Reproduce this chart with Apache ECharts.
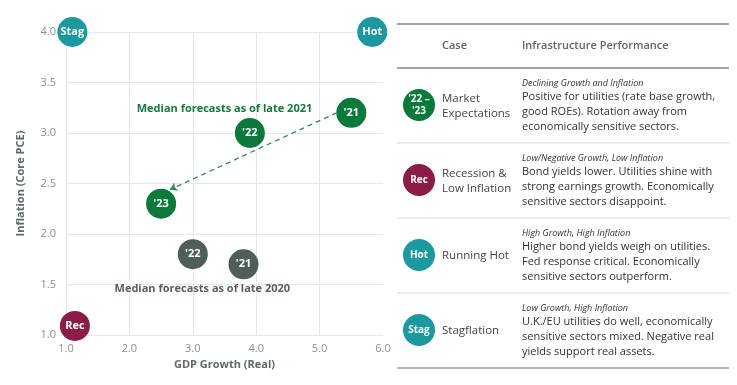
<!DOCTYPE html>
<html>
<head>
<meta charset="utf-8">
<script src="https://cdn.jsdelivr.net/npm/echarts@6/dist/echarts.min.js"></script>
<style>html,body{margin:0;padding:0;background:#fff}#c{width:737px;height:385px}</style>
</head>
<body>
<div id="c"></div>
<script>
// ---- data ----
const scenarioLabels = ['Stag', 'Hot', 'Rec'];
const scenarioX = [1.1, 5.83, 1.14];
const scenarioY = [4.0, 4.0, 1.09];
const scenarioColors = ['#1a9aa0', '#1a9aa0', '#8a1c45'];

const late2021Labels = ["'21", "'22", "'23"];
const late2021X = [5.5, 3.9, 2.5];
const late2021Y = [3.2, 3.0, 2.3];

const late2020Labels = ["'22", "'21"];
const late2020X = [3.0, 3.8];
const late2020Y = [1.8, 1.7];

const arrowFrom = [5.27, 3.2];
const arrowTo = [2.64, 2.44];

const annotTexts = ['Median forecasts as of late 2021', 'Median forecasts as of late 2020'];
const annotX = [3.5, 3.15];
const annotY = [3.24, 1.46];

const xTicks = [1, 2, 3, 4, 5, 6];
const yTicks = [1.0, 1.5, 2.0, 2.5, 3.0, 3.5, 4.0];

const tableHeader = ['Case', 'Infrastructure Performance'];
const rowIcons = ["'22 –\n'23", 'Rec', 'Hot', 'Stag'];
const rowIconColors = ['#0a7a3a', '#8a1c45', '#1a9aa0', '#1a9aa0'];
const rowCases = ['Market\nExpectations', 'Recession &\nLow Inflation', 'Running Hot', 'Stagflation'];
const rowSubtitles = ['Declining Growth and Inflation', 'Low/Negative Growth, Low Inflation', 'High Growth, High Inflation', 'Low Growth, High Inflation'];
const rowBodies = [
  'Positive for utilities (rate base growth,\ngood ROEs). Rotation away from\neconomically sensitive sectors.',
  'Bond yields lower. Utilities shine with\nstrong earnings growth. Economically\nsensitive sectors disappoint.',
  'Higher bond yields weigh on utilities.\nFed response critical. Economically\nsensitive sectors outperform.',
  'U.K./EU utilities do well, economically\nsensitive sectors mixed. Negative real\nyields support real assets.'
];

// ---- chart ----
const FONT = 'Open Sans';
const chart = echarts.init(document.getElementById('c'), null, {renderer: 'canvas'});

function bubbleSeries(labels, xs, ys, colors, name) {
  return {
    type: 'scatter', name: name, symbolSize: 30, z: 5,
    data: labels.map((l, i) => ({
      value: [xs[i], ys[i]], name: l,
      itemStyle: {color: Array.isArray(colors) ? colors[i] : colors, opacity: 1}
    })),
    itemStyle: {opacity: 1},
    label: {show: true, position: 'inside', formatter: p => p.name, color: '#fff',
      fontFamily: FONT, fontWeight: 'bold', fontSize: 11},
    emphasis: {disabled: true}
  };
}

// table graphics
const g = [];
const tx0 = 397, tx1 = 729;
const lineDefs = [[24, 2, '#9ea6a3'], [68, 2, '#9ea6a3'], [143, 1, '#d6d9d8'], [218, 1, '#d6d9d8'], [293, 1, '#d6d9d8'], [368, 2, '#b3b8b6']];
lineDefs.forEach(d => g.push({type: 'line', shape: {x1: tx0, y1: d[0], x2: tx1, y2: d[0]}, style: {stroke: d[2], lineWidth: d[1]}}));
g.push({type: 'text', x: 442, y: 46, style: {text: tableHeader[0], fill: '#5d6966', font: '600 11px "' + FONT + '"', textVerticalAlign: 'middle'}});
g.push({type: 'text', x: 522, y: 46, style: {text: tableHeader[1], fill: '#5d6966', font: '600 11px "' + FONT + '"', textVerticalAlign: 'middle'}});
const rowTop = [68, 143, 218, 293];
rowIcons.forEach((ic, i) => {
  const top = rowTop[i];
  const cy = top + 37;
  g.push({type: 'circle', shape: {cx: 419, cy: cy, r: 16}, style: {fill: rowIconColors[i]}});
  g.push({type: 'text', x: 419, y: cy, style: {text: ic, fill: '#fff', font: 'bold 10px "' + FONT + '"', textAlign: 'center', textVerticalAlign: 'middle', lineHeight: 12}});
  g.push({type: 'text', x: 442, y: cy + 1, style: {text: rowCases[i], fill: '#444', font: '11.5px "' + FONT + '"', textVerticalAlign: 'middle', lineHeight: 15}});
  g.push({type: 'text', x: 522, y: top + 15, style: {text: rowSubtitles[i], fill: '#333', font: 'italic 9px "' + FONT + '"', textVerticalAlign: 'middle'}});
  g.push({type: 'text', x: 522, y: top + 22, style: {text: rowBodies[i], fill: '#333', font: '11px "' + FONT + '"', textVerticalAlign: 'top', lineHeight: 14.7}});
});

const option = {
  animation: false,
  backgroundColor: '#fff',
  textStyle: {fontFamily: FONT},
  grid: {left: 66, right: 354, top: 32, bottom: 50},
  xAxis: {
    type: 'value', min: 1, max: 6, interval: 1,
    name: 'GDP Growth (Real)', nameLocation: 'middle', nameGap: 24,
    nameTextStyle: {color: '#5d6966', fontWeight: 'bold', fontSize: 11, fontFamily: FONT},
    axisLine: {show: false}, axisTick: {show: false},
    axisLabel: {color: '#8a8f8d', fontSize: 11, margin: 8, formatter: v => v.toFixed(1), fontFamily: FONT},
    splitLine: {show: true, showMaxLine: false, lineStyle: {color: '#e8e8e8'}}
  },
  yAxis: {
    type: 'value', min: 1, max: 4, interval: 0.5,
    name: 'Inflation (Core PCE)', nameLocation: 'middle', nameGap: 40, nameRotate: 90,
    nameTextStyle: {color: '#5d6966', fontWeight: 'bold', fontSize: 11, fontFamily: FONT},
    axisLine: {show: false}, axisTick: {show: false},
    axisLabel: {color: '#8a8f8d', fontSize: 11, margin: 10, formatter: v => v.toFixed(1), fontFamily: FONT},
    splitLine: {show: true, lineStyle: {color: '#e8e8e8'}}
  },
  series: [
    {
      type: 'lines', coordinateSystem: 'cartesian2d', z: 3,
      symbol: ['none', 'arrow'], symbolSize: 7,
      lineStyle: {color: '#2e8b57', type: [5, 4], width: 1.3, opacity: 1},
      data: [{coords: [arrowFrom, arrowTo]}],
      silent: true
    },
    bubbleSeries(late2020Labels, late2020X, late2020Y, '#4f5e5a', 'late2020'),
    bubbleSeries(late2021Labels, late2021X, late2021Y, '#0a7a3a', 'late2021'),
    bubbleSeries(scenarioLabels, scenarioX, scenarioY, scenarioColors, 'scenarios'),
    {
      type: 'scatter', symbolSize: 0, z: 6, silent: true,
      itemStyle: {opacity: 1},
      data: annotTexts.map((t, i) => ({value: [annotX[i], annotY[i]], name: t,
        itemStyle: {opacity: 1},
        label: {color: i === 0 ? '#117a3c' : '#55625f'}})),
      label: {
        show: true, position: 'inside', formatter: p => p.name, fontFamily: FONT,
        fontWeight: 'bold', fontSize: 11
      }
    }
  ],
  graphic: g
};
chart.setOption(option);
</script>
</body>
</html>
